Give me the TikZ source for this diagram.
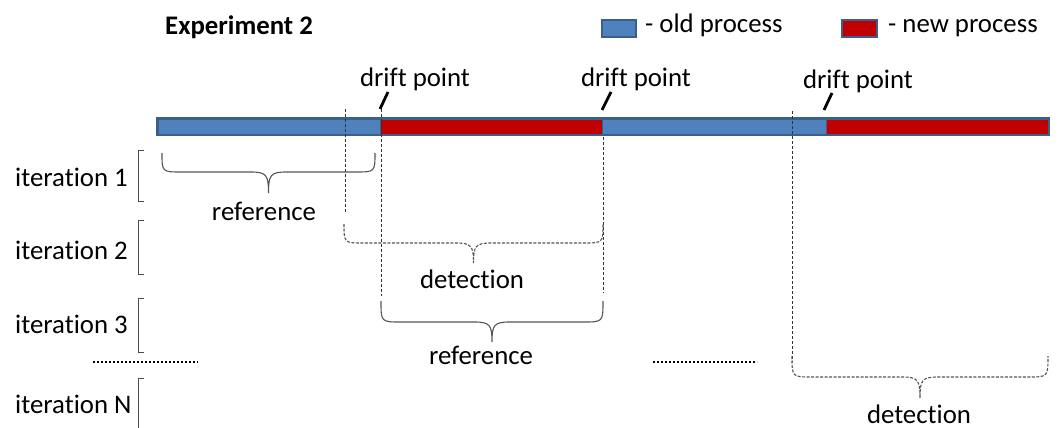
\documentclass[tikz,border=0pt]{standalone}
\usepackage{fontspec}
\setmainfont{Carlito}[Ligatures=NoCommon]
\definecolor{oldblue}{HTML}{4F81BD}
\definecolor{edgeblue}{HTML}{3A5F8B}
\definecolor{newred}{HTML}{C00000}
\definecolor{bracegray}{HTML}{555555}
\newcommand{\bracepath}[5]{% x1, x2, ytop, ybottom, ytip
  (#1,#3) .. controls (#1,#4) and (#1,#4) .. ({#1+20},#4)
  -- ({(#1+#2)/2-18},#4) .. controls ({(#1+#2)/2-2},#4) and ({(#1+#2)/2},{#4+3}) .. ({(#1+#2)/2},#5)
  .. controls ({(#1+#2)/2},{#4+3}) and ({(#1+#2)/2+2},#4) .. ({(#1+#2)/2+18},#4)
  -- ({#2-20},#4) .. controls (#2,#4) and (#2,#4) .. (#2,#3)}
\begin{document}
\begin{tikzpicture}[x=1pt,y=-1pt,
  lbl/.style={inner sep=0pt,font=\fontsize{26.8}{30}\selectfont},
  bracesolid/.style={draw=bracegray,line width=1.1pt},
  bracedash/.style={draw=bracegray,line width=1.1pt,dash pattern=on 3pt off 1.5pt},
  vdash/.style={draw=black!80,line width=0.9pt,dash pattern=on 3pt off 2pt},
  drifttick/.style={draw=black,line width=2.8pt},
  iterbracket/.style={draw=black!70,line width=1pt},
  dotline/.style={draw=black,line width=1.8pt,dash pattern=on 1.8pt off 2.2pt}]
\useasboundingbox (0,0) rectangle (1058,428);
% title and legend
\node[lbl,font=\fontsize{26.8}{30}\selectfont\bfseries,anchor=west] (title) at (165,27) {Experiment 2};
\draw[fill=oldblue,draw=edgeblue,line width=2.5pt] (602,20) rectangle (636,37);
\node[lbl,anchor=base west] (leg1) at (645,33) {- old process};
\draw[fill=newred,draw=edgeblue,line width=2.5pt] (842,20) rectangle (877,37);
\node[lbl,anchor=base west] (leg2) at (888,33) {- new process};
% bar
\draw[fill=oldblue,draw=edgeblue,line width=2.5pt] (157.25,118.25) rectangle (1048.75,134.75);
\fill[newred] (381,119.5) rectangle (601.5,133.5);
\fill[newred] (827,119.5) rectangle (1047.5,133.5);
\draw[edgeblue,line width=1pt] (380.5,119.5) -- (380.5,133.5);
\draw[edgeblue,line width=1pt] (602,119.5) -- (602,133.5);
\draw[edgeblue,line width=1pt] (826.5,119.5) -- (826.5,133.5);
% drift points
\node[lbl] (d1) at (415,79) {drift point};
\node[lbl] (d2) at (636,79) {drift point};
\node[lbl] (d3) at (858,81) {drift point};
\draw[drifttick] (380,109) -- (388,92);
\draw[drifttick] (602,110) -- (611,92);
\draw[drifttick] (824,110) -- (832,93);
% vertical dashed lines
\draw[vdash] (345,109) -- (345,213);
\draw[vdash] (381,109) -- (381,296);
\draw[vdash] (603,137) -- (603,293);
\draw[vdash] (792,111) -- (792,362);
% braces
\draw[bracesolid] \bracepath{162}{375}{153}{172}{193};
\node[lbl] (ref1) at (264,211) {reference};
\draw[bracedash] \bracepath{344}{603}{224}{243}{263};
\node[lbl] (det1) at (472,279) {detection};
\draw[bracesolid] \bracepath{381}{603}{301}{322}{342};
\node[lbl] (ref2) at (481,355) {reference};
\draw[bracedash] \bracepath{792}{1048}{356}{377}{398};
\node[lbl] (det2) at (919,414) {detection};
% iteration labels
\node[lbl,anchor=west] (it1) at (15,177) {iteration 1};
\node[lbl,anchor=west] (it2) at (15,250) {iteration 2};
\node[lbl,anchor=west] (it3) at (15,324) {iteration 3};
\node[lbl,anchor=west] (itN) at (15,404) {iteration N};
\draw[iterbracket] (144,150) -- (138,150) -- (138,201) -- (144,201);
\draw[iterbracket] (144,220) -- (138,220) -- (138,274) -- (144,274);
\draw[iterbracket] (144,298) -- (138,298) -- (138,352) -- (144,352);
\draw[iterbracket] (144,378) -- (138,378) -- (138,428);
% dots
\draw[dotline] (93,362) -- (198,362);
\draw[dotline] (653,362) -- (757,362);
\end{tikzpicture}
\end{document}
